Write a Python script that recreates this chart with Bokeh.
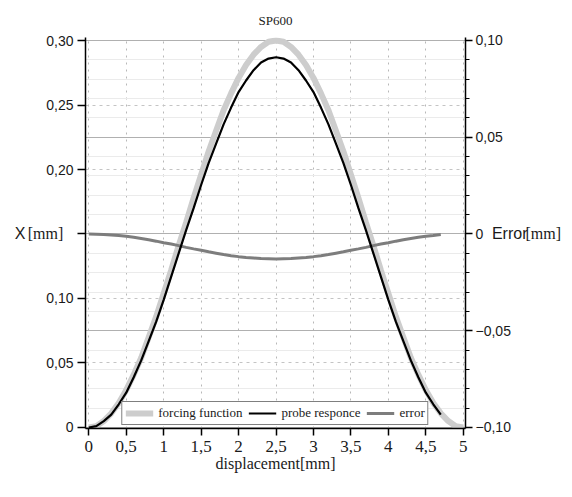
from bokeh.plotting import figure
from bokeh.models import (Range1d, LinearAxis, FixedTicker, Grid, Legend,
                          LegendItem, CustomJSTickFormatter)
from bokeh.embed import file_html
from bokeh.resources import INLINE

# ---- data ----
x_force = [0.0, 0.1, 0.2, 0.3, 0.4, 0.5, 0.6, 0.7, 0.8, 0.9, 1.0, 1.1, 1.2, 1.3, 1.4, 1.5,
           1.6, 1.7, 1.8, 1.9, 2.0, 2.1, 2.2, 2.3, 2.4, 2.5, 2.6, 2.7, 2.8, 2.9, 3.0, 3.1,
           3.2, 3.3, 3.4, 3.5, 3.6, 3.7, 3.8, 3.9, 4.0, 4.1, 4.2, 4.3, 4.4, 4.5, 4.6, 4.7,
           4.8, 4.9, 5.0]
forcing = [0.000, 0.001, 0.005, 0.011, 0.019, 0.029, 0.041, 0.054, 0.070, 0.086, 0.104,
           0.122, 0.141, 0.159, 0.178, 0.196, 0.214, 0.230, 0.246, 0.259, 0.271, 0.281,
           0.289, 0.295, 0.299, 0.300, 0.299, 0.295, 0.289, 0.281, 0.271, 0.259, 0.246,
           0.230, 0.214, 0.196, 0.178, 0.159, 0.141, 0.122, 0.104, 0.086, 0.070, 0.054,
           0.041, 0.029, 0.019, 0.011, 0.005, 0.001, 0.000]

x_probe = [0.0, 0.1, 0.2, 0.3, 0.4, 0.5, 0.6, 0.7, 0.8, 0.9, 1.0, 1.1, 1.2, 1.3, 1.4, 1.5,
           1.6, 1.7, 1.8, 1.9, 2.0, 2.1, 2.2, 2.3, 2.4, 2.5, 2.6, 2.7, 2.8, 2.9, 3.0, 3.1,
           3.2, 3.3, 3.4, 3.5, 3.6, 3.7, 3.8, 3.9, 4.0, 4.1, 4.2, 4.3, 4.4, 4.5, 4.6, 4.7]
probe = [0.000, 0.001, 0.005, 0.010, 0.018, 0.027, 0.039, 0.052, 0.067, 0.082, 0.099,
         0.117, 0.135, 0.153, 0.170, 0.188, 0.205, 0.220, 0.235, 0.248, 0.260, 0.269,
         0.277, 0.283, 0.286, 0.287, 0.286, 0.283, 0.277, 0.269, 0.260, 0.248, 0.235,
         0.220, 0.205, 0.188, 0.170, 0.153, 0.135, 0.117, 0.099, 0.082, 0.067, 0.052,
         0.039, 0.027, 0.018, 0.010]
error = [0.0000, -0.0001, -0.0002, -0.0005, -0.0008, -0.0012, -0.0017, -0.0023, -0.0030,
         -0.0037, -0.0045, -0.0052, -0.0060, -0.0069, -0.0077, -0.0084, -0.0092, -0.0099,
         -0.0106, -0.0112, -0.0117, -0.0121, -0.0124, -0.0127, -0.0128, -0.0129, -0.0128,
         -0.0127, -0.0124, -0.0121, -0.0117, -0.0112, -0.0106, -0.0099, -0.0092, -0.0084,
         -0.0077, -0.0069, -0.0060, -0.0052, -0.0045, -0.0037, -0.0030, -0.0023, -0.0017,
         -0.0012, -0.0008, -0.0003]

x_ticks = [0, 0.5, 1, 1.5, 2, 2.5, 3, 3.5, 4, 4.5, 5]
left_ticks = [0, 0.05, 0.10, 0.15, 0.20, 0.25, 0.30]
right_ticks = [-0.10, -0.05, 0, 0.05, 0.10]
right_minor = [-0.10, -0.09, -0.08, -0.07, -0.06, -0.05, -0.04, -0.03, -0.02, -0.01, 0,
               0.01, 0.02, 0.03, 0.04, 0.05, 0.06, 0.07, 0.08, 0.09, 0.10]

title_text = "SP600"
x_label = "displacement[mm]"
y_label = ["X", "[mm]"]
err_label = ["Error", "[mm]"]
labels = ["forcing function", "probe responce", "error"]

SANS = "Liberation Sans"
SERIF = "Liberation Serif"
TXT = "#1a1a1a"

p = figure(width=572, height=497, frame_width=380, frame_height=391,
           output_backend="svg", toolbar_location=None,
           x_range=Range1d(-0.044, 5.03), y_range=Range1d(-0.00078, 0.30233),
           min_border_left=85, min_border_right=105, min_border_top=37,
           min_border_bottom=69)
p.extra_y_ranges = {"err": Range1d(-0.10052, 0.10155)}
p.outline_line_color = None
p.background_fill_color = "white"
p.border_fill_color = "white"

p.title.text = title_text
p.title.align = "center"
p.title.text_font = SERIF
p.title.text_font_size = "13px"
p.title.text_font_style = "normal"
p.title.text_color = TXT
p.title.standoff = 19

# x axis
xt = FixedTicker(ticks=x_ticks)
xa = p.xaxis[0]
xa.ticker = xt
xa.formatter = CustomJSTickFormatter(code="""
  if (Math.abs(tick) < 1e-9) return '0';
  if (Math.abs(tick - Math.round(tick)) < 1e-9) return String(Math.round(tick));
  return tick.toFixed(1).replace('.', ',');
""")
xa.axis_line_color = "black"
xa.axis_line_width = 1.5
xa.major_tick_line_color = "black"
xa.major_tick_line_width = 1.5
xa.major_tick_out = 7
xa.major_tick_in = 0
xa.minor_tick_line_color = None
xa.major_label_text_font = SERIF
xa.major_label_text_font_size = "17px"
xa.major_label_text_color = TXT
xa.major_label_standoff = 5
xa.axis_label = x_label
xa.axis_label_text_font = SERIF
xa.axis_label_text_font_size = "16px"
xa.axis_label_text_font_style = "normal"
xa.axis_label_text_color = TXT
xa.axis_label_standoff = 0

# left axis (inner): ticks + "[mm]" label
lt = FixedTicker(ticks=left_ticks)
ya = p.yaxis[0]
ya.ticker = lt
ya.formatter = CustomJSTickFormatter(code="""
  if (Math.abs(tick) < 1e-9) return '0';
  if (Math.abs(tick - 0.15) < 1e-9) return '';
  return tick.toFixed(2).replace('.', ',');
""")
ya.axis_line_color = "black"
ya.axis_line_width = 1.5
ya.major_tick_line_color = "black"
ya.major_tick_line_width = 1.5
ya.major_tick_out = 8
ya.major_tick_in = 0
ya.minor_tick_line_color = None
ya.major_label_text_font = SANS
ya.major_label_text_font_size = "14px"
ya.major_label_text_color = TXT
ya.major_label_standoff = 4
ya.axis_label = y_label[1]
ya.axis_label_orientation = "horizontal"
ya.axis_label_text_font = SERIF
ya.axis_label_text_font_size = "16px"
ya.axis_label_text_font_style = "normal"
ya.axis_label_text_color = TXT
ya.axis_label_standoff = -20

# left axis (outer): only the "X"
ya2 = LinearAxis(ticker=FixedTicker(ticks=[]), axis_line_color=None,
                 major_tick_line_color=None, minor_tick_line_color=None,
                 major_tick_out=0, major_tick_in=0, minor_tick_out=0,
                 major_label_standoff=0, axis_label=y_label[0],
                 axis_label_orientation="horizontal", axis_label_text_font=SANS,
                 axis_label_text_font_size="16px", axis_label_text_font_style="normal",
                 axis_label_text_color=TXT, axis_label_standoff=-1)
p.add_layout(ya2, "left")

# right axis (inner): ticks + "Error"
rt = FixedTicker(ticks=right_ticks, minor_ticks=right_minor)
ra = LinearAxis(y_range_name="err", ticker=rt,
                formatter=CustomJSTickFormatter(code="""
  if (Math.abs(tick) < 1e-9) return '0';
  const s = Math.abs(tick).toFixed(2).replace('.', ',');
  return tick < 0 ? '\u2212' + s : s;
"""))
ra.axis_line_color = "black"
ra.axis_line_width = 1.5
ra.major_tick_line_color = "black"
ra.major_tick_line_width = 1.5
ra.major_tick_out = 7
ra.major_tick_in = 0
ra.minor_tick_line_color = "black"
ra.minor_tick_line_width = 1.2
ra.minor_tick_out = 4
ra.minor_tick_in = 0
ra.major_label_text_font = SANS
ra.major_label_text_font_size = "14px"
ra.major_label_text_color = TXT
ra.major_label_standoff = 3
ra.axis_label = err_label[0]
ra.axis_label_orientation = "horizontal"
ra.axis_label_text_font = SANS
ra.axis_label_text_font_size = "16px"
ra.axis_label_text_font_style = "normal"
ra.axis_label_text_color = TXT
ra.axis_label_standoff = -22
p.add_layout(ra, "right")

# right axis (outer): only "[mm]"
ra2 = LinearAxis(y_range_name="err", ticker=FixedTicker(ticks=[]), axis_line_color=None,
                 major_tick_line_color=None, minor_tick_line_color=None,
                 major_tick_out=0, major_tick_in=0, minor_tick_out=0,
                 major_label_standoff=0, axis_label=err_label[1],
                 axis_label_orientation="horizontal", axis_label_text_font=SERIF,
                 axis_label_text_font_size="16px", axis_label_text_font_style="normal",
                 axis_label_text_color=TXT, axis_label_standoff=-5)
p.add_layout(ra2, "right")

# grids
p.xgrid.ticker = xt
p.xgrid.grid_line_color = "#b8b8b8"
p.xgrid.grid_line_dash = "2 5"
p.ygrid.ticker = lt
p.ygrid.grid_line_color = "#c4c4c4"
p.ygrid.grid_line_dash = "3 4"
rg = Grid(dimension=1, y_range_name="err", ticker=rt,
          grid_line_color="#b0b0b0", grid_line_width=1,
          minor_grid_line_color="#ebebeb", minor_grid_line_width=1)
p.add_layout(rg)

# curves
rf = p.line(x_force, forcing, line_color="#cdcdcd", line_width=6)
re = p.line(x_probe, error, line_color="#7d7d7d", line_width=3, y_range_name="err")
rp = p.line(x_probe, probe, line_color="black", line_width=2.2)

# legend kept inside the frame (bottom centre) so that it stays visible
legend = Legend(items=[LegendItem(label=labels[0], renderers=[rf]),
                       LegendItem(label=labels[1], renderers=[rp]),
                       LegendItem(label=labels[2], renderers=[re])],
                orientation="horizontal", location="bottom_center",
                border_line_color="black", border_line_width=1,
                background_fill_color="white", background_fill_alpha=1,
                label_text_font=SERIF, label_text_font_size="13px",
                label_text_color=TXT, glyph_width=28, glyph_height=12,
                label_height=14, label_standoff=5, spacing=6, padding=3, margin=3)
p.add_layout(legend, "center")

open("out.html", "w").write(file_html(p, INLINE))
